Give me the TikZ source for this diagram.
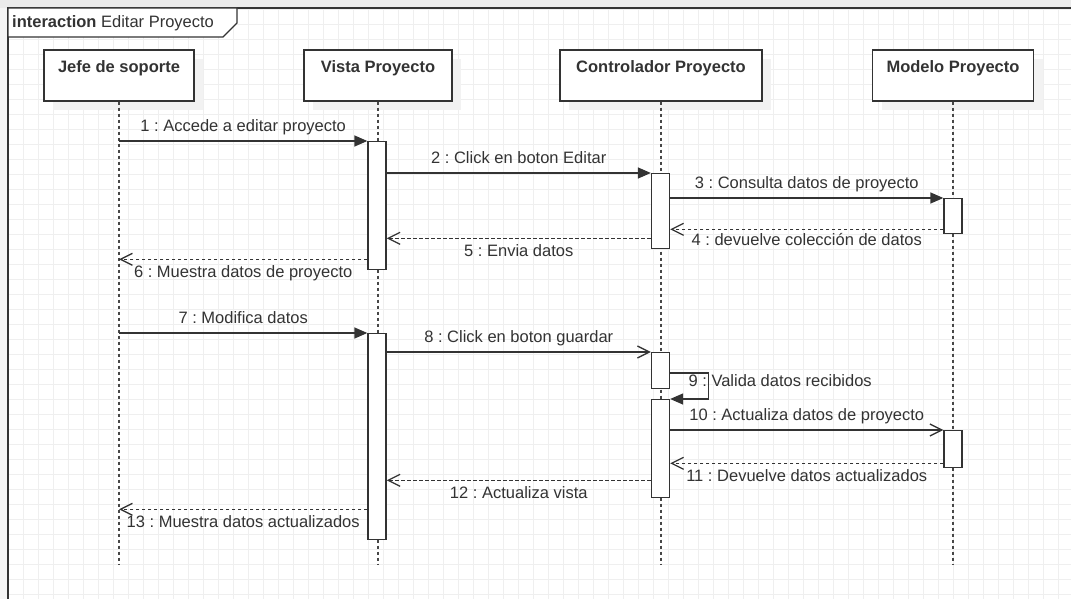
\documentclass[tikz,border=0pt]{standalone}
\usepackage{fontspec}
\setmainfont{Liberation Sans}
\usetikzlibrary{arrows.meta,shadows}
\definecolor{ink}{HTML}{333333}
\definecolor{gridc}{HTML}{EFEFEF}
\frenchspacing
\begin{document}
\begin{tikzpicture}[x=1pt,y=-1pt,
  every node/.style={font=\fontsize{16.5}{19}\selectfont, text=ink},
  gridline/.style={draw=gridc, line width=0.9pt},
  frameline/.style={draw=ink, line width=1.8pt},
  head/.style={draw=ink, line width=1.3pt, fill=white, minimum height=51pt,
    inner ysep=0pt, text height=23pt, text depth=28pt, font=\fontsize{16.5}{19}\selectfont\bfseries,
    drop shadow={shadow xshift=9pt, shadow yshift=-9pt, fill=black!5, draw=none, opacity=1}},
  act/.style={draw=ink, line width=1.3pt, fill=white, minimum width=18pt, inner sep=0pt, anchor=north},
  life/.style={draw=ink!90, line width=1.5pt, dash pattern=on 3pt off 3pt},
  sync/.style={draw=ink, line width=1.3pt, -{Triangle[length=13pt,width=11pt]}},
  async/.style={draw=ink, line width=1.3pt, -{Straight Barb[length=12pt,width=12pt]}},
  reply/.style={async, dash pattern=on 3.5pt off 2.5pt},
  msg/.style={midway, inner sep=0pt, text height=12pt, text depth=3.5pt}]
\useasboundingbox (0,0) rectangle (1071,599);
% background
\fill[white] (0,0) rectangle (1071,599);
\fill[black!8] (0,0) rectangle (1071,8);
\fill[black!4] (0,8) rectangle (8,599);
\foreach \x in {8,23,...,1071} \draw[gridline] (\x,8) -- (\x,599);
\foreach \y in {9,24,...,599} \draw[gridline] (8,\y) -- (1071,\y);
% frame
\draw[frameline] (1071,8) -- (8,8) -- (8,599);
\filldraw[frameline, fill=white, line width=1.4pt] (8,8) -- (8,37) -- (223,37) -- (237,23) -- (237,8) -- cycle;
\node[anchor=base west, inner sep=0pt] (title) at (12,28) {\textbf{interaction} Editar Proyecto};
% heads
\node[head, minimum width=150pt] (jefe) at (119,75.5) {Jefe de soporte};
\node[head, minimum width=148pt] (vista) at (378,75.5) {Vista Proyecto};
\node[head, minimum width=202pt] (ctrl) at (661,75.5) {Controlador Proyecto};
\node[head, minimum width=161pt] (modelo) at (953,75.5) {Modelo Proyecto};
% lifelines
\coordinate (lifeEnd) at (0,565);
\draw[life] (jefe.south) -- (jefe.south |- lifeEnd);
\draw[life] (vista.south) -- (vista.south |- lifeEnd);
\draw[life] (ctrl.south) -- (ctrl.south |- lifeEnd);
\draw[life] (modelo.south) -- (modelo.south |- lifeEnd);
% activation bars
\node[act, minimum height=128pt] (v1) at (377,141) {};
\node[act, minimum height=75pt] (c1) at (660.5,173) {};
\node[act, minimum height=35pt] (m1) at (953,198) {};
\node[act, minimum height=206pt] (v2) at (377,333) {};
\node[act, minimum height=36pt] (c2) at (660.5,352) {};
\node[act, minimum height=98pt] (c3) at (660.5,399) {};
\node[act, minimum height=37pt] (m2) at (953,430) {};
% messages
\draw[sync] (jefe.south |- v1.north) -- node[msg, above=5pt]{1 : Accede a editar proyecto} (v1.north west);
\draw[sync] (v1.east |- c1.north) -- node[msg, above=5pt]{2 : Click en boton Editar} (c1.north west);
\draw[sync] (c1.east |- m1.north) -- node[msg, above=5pt]{3 : Consulta datos de proyecto} (m1.north west);
\coordinate (r4) at ([yshift=5pt]m1.south west);
\draw[reply] (r4) -- node[msg, below=4pt]{4 : devuelve colección de datos} (r4 -| c1.east);
\coordinate (r5) at ([yshift=11pt]c1.south west);
\draw[reply] (r5) -- node[msg, below=6pt]{5 : Envia datos} (r5 -| v1.east);
\coordinate (r6) at ([yshift=11pt]v1.south west);
\draw[reply] (r6) -- node[msg, below=6pt]{6 : Muestra datos de proyecto} (r6 -| jefe.south);
\draw[sync] (jefe.south |- v2.north) -- node[msg, above=5pt]{7 : Modifica datos} (v2.north west);
\draw[async] (v2.east |- c2.north) -- node[msg, above=5pt]{8 : Click en boton guardar} (c2.north west);
\draw[sync] ([yshift=-21pt]c2.north east) -- ++(38,0) |- node[pos=0.25, anchor=base, xshift=72pt, inner sep=0pt]{9 : Valida datos recibidos} (c3.north east);
\draw[async] (c3.east |- m2.north) -- node[msg, above=5pt]{10 : Actualiza datos de proyecto} (m2.north west);
\coordinate (r11) at ([yshift=5pt]m2.south west);
\draw[reply] (r11) -- node[msg, below=6pt]{11 : Devuelve datos actualizados} (r11 -| c3.east);
\coordinate (r12) at ([yshift=18pt]c3.south west);
\draw[reply] (r12) -- node[msg, below=6pt]{12 : Actualiza vista} (r12 -| v2.east);
\coordinate (r13) at ([yshift=31pt]v2.south west);
\draw[reply] (r13) -- node[msg, below=6pt]{13 : Muestra datos actualizados} (r13 -| jefe.south);
\end{tikzpicture}
\end{document}
